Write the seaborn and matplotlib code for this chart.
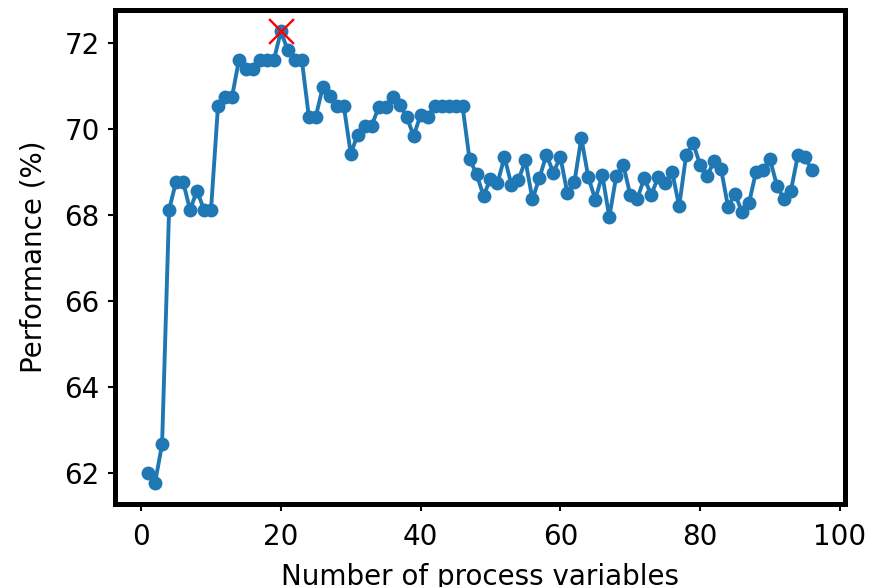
import numpy as np
import pandas as pd
import matplotlib
matplotlib.use("Agg")
import matplotlib.pyplot as plt
import seaborn as sns

n_vars = list(range(1, 97))
performance = [
    62.01, 61.78, 62.67, 68.12, 68.78, 68.78, 68.12, 68.57, 68.12, 68.12,
    70.53, 70.74, 70.74, 71.61, 71.40, 71.40, 71.61, 71.61, 71.61, 72.27,
    71.83, 71.61, 71.61, 70.29, 70.29, 70.98, 70.77, 70.54, 70.54, 69.43,
    69.87, 70.08, 70.08, 70.51, 70.51, 70.74, 70.57, 70.29, 69.84, 70.33,
    70.29, 70.53, 70.53, 70.53, 70.53, 70.53, 69.30, 68.96, 68.45, 68.84,
    68.74, 69.35, 68.70, 68.82, 69.27, 68.37, 68.86, 69.40, 68.99, 69.35,
    68.51, 68.76, 69.79, 68.88, 68.36, 68.94, 67.95, 68.91, 69.17, 68.47,
    68.37, 68.86, 68.47, 68.88, 68.74, 69.01, 68.20, 69.40, 69.67, 69.17,
    68.91, 69.25, 69.07, 68.19, 68.50, 68.06, 68.28, 69.01, 69.05, 69.30,
    68.68, 68.37, 68.57, 69.40, 69.35, 69.04,
]
best_idx = int(np.argmax(performance))
best_x = [n_vars[best_idx]]
best_y = [performance[best_idx]]

df = pd.DataFrame({"n": n_vars, "perf": performance})

sns.set_style("white")
plt.rcParams["font.family"] = ["DejaVu Sans"]
plt.rcParams["text.color"] = "black"
plt.rcParams["axes.labelcolor"] = "black"

fig = plt.figure(figsize=(8.84, 5.87), dpi=100)
ax = fig.add_axes([0.130, 0.1414, 0.826, 0.8416])

blue = "#1f77b4"
sns.lineplot(data=df, x="n", y="perf", ax=ax, color=blue, linewidth=2.8,
             marker="o", markersize=10, markeredgewidth=0, markeredgecolor=blue)
sns.scatterplot(x=best_x, y=best_y, ax=ax, marker="x", color="red", s=320,
                linewidth=1.7, zorder=5)

ax.set_xlim(-3.75, 100.75)
ax.set_ylim(61.28, 72.77)
ax.set_xticks([0, 20, 40, 60, 80, 100])
ax.set_yticks([62, 64, 66, 68, 70, 72])

for sp in ax.spines.values():
    sp.set_visible(True)
    sp.set_color("black")
    sp.set_linewidth(3.6)

ax.tick_params(axis="both", which="major", labelsize=20, length=5, width=1.5,
               color="black", labelcolor="black", direction="out", bottom=True, left=True)
ax.tick_params(axis="x", pad=9)
ax.tick_params(axis="y", pad=6)

ax.set_xlabel("Number of process variables", fontsize=20, labelpad=8, color="black")
ax.set_ylabel("Performance (%)", fontsize=20, labelpad=12, color="black")
ax.grid(False)

fig.savefig("out.png", dpi=100)
